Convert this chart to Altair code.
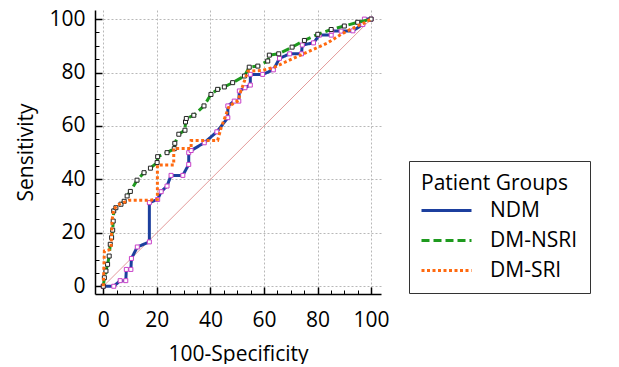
import altair as alt
import pandas as pd

FONT = "Open Sans"
FS = 21

groups = ["NDM", "DM-NSRI", "DM-SRI"]
colors = ["#1c3f9e", "#1e9a1e", "#ff6a10"]
dashes = [[1, 0], [8, 4], [3, 2.5]]

ndm_x = [0, 3.9, 6.3, 8.4, 8.6, 10.3, 10.5, 12.7, 17.2, 17.2, 20.3, 21.6, 23.8, 25.3, 29.7, 31.9, 31.9, 32.8, 37.7, 42.4,
         46.5, 46.5, 48.9, 50.6, 50.8, 52.9, 54.9, 54.9, 59.5, 63.5, 65.8, 69.6, 74.0, 74.3, 78.5, 80.7, 85.1, 85.3, 88.8, 93.2,
         96.9, 97.5, 100]
ndm_y = [0, 0, 2.1, 2.1, 6.3, 6.3, 10.4, 14.7, 16.6, 31.3, 32.5, 35.4, 37.5, 41.5, 41.5, 45.6, 50.0, 50.8, 53.7, 57.8,
         63.1, 67.5, 69.3, 69.3, 73.1, 74.3, 75.3, 79.3, 79.3, 81.0, 85.3, 87.0, 87.0, 90.3, 91.1, 94.0, 94.0, 95.5, 95.5, 95.6,
         98.0, 100, 100]

nsri_x = [0, 0.4, 1.0, 1.6, 2.2, 2.6, 3.1, 3.5, 3.7, 3.9, 4.7, 6.6, 7.8, 8.9, 10.1, 12.6, 15.2, 17.6, 20.1, 20.3,
          23.8, 26.5, 26.7, 28.2, 30.5, 30.7, 31.0, 33.8, 37.6, 40.2, 42.7, 45.2, 48.3, 52.7, 54.5, 57.7, 61.4, 62.0, 65.5, 70.5,
          75.1, 80.1, 85.1, 90.0, 95.0, 100]
nsri_y = [0, 3.2, 5.7, 8.2, 11.3, 15.7, 18.2, 21.0, 24.4, 28.2, 29.4, 30.7, 31.8, 33.8, 35.5, 39.7, 42.5, 44.2, 46.3, 48.5,
          50.0, 51.5, 53.5, 56.9, 58.4, 61.5, 62.8, 64.0, 67.5, 71.8, 73.7, 74.6, 76.2, 78.7, 82.0, 82.4, 84.3, 86.5, 87.0, 89.5,
          92.0, 94.3, 96.1, 97.4, 98.8, 100]

sri_x = [0, 0.4, 2.2, 2.9, 3.3, 3.9, 5.5, 9.7, 17.2, 20.2, 20.2, 26.3, 26.3, 32.8, 32.8, 42.7, 44.0, 47.0, 50.5, 51.0,
         54.0, 59.5, 63.9, 70.1, 77.6, 83.8, 88.8, 93.0, 97.5, 100]
sri_y = [0, 13.2, 13.6, 14.4, 25.0, 28.8, 30.5, 32.2, 32.2, 32.5, 45.4, 45.4, 51.6, 51.6, 54.6, 54.6, 59.3, 67.5, 69.5, 72.0,
         80.5, 80.8, 82.0, 84.9, 88.3, 91.1, 94.3, 96.5, 98.6, 100]

diag_x = [0, 100]
diag_y = [0, 100]

major_ticks = [0, 20, 40, 60, 80, 100]
minor_ticks = [0, 5, 10, 15, 20, 25, 30, 35, 40, 45, 50, 55, 60, 65, 70, 75, 80, 85, 90, 95, 100]

rows = []
for g, xs_, ys_ in zip(groups, [ndm_x, nsri_x, sri_x], [ndm_y, nsri_y, sri_y]):
    for i, (a, b) in enumerate(zip(xs_, ys_)):
        rows.append({"group": g, "order": i, "x": a, "y": b})
df = pd.DataFrame(rows)
diag_df = pd.DataFrame({"x": diag_x, "y": diag_y})

W, H = 286, 284
xscale = alt.Scale(domain=[-3.1, 103.7], nice=False, zero=False)
yscale = alt.Scale(domain=[-2.9, 103.4], nice=False, zero=False)

common_lab = dict(domain=False, ticks=False, tickSize=0, labelFont=FONT, labelFontSize=FS, labelColor="black",
                  titleFont=FONT, titleFontSize=FS, titleFontWeight="normal", titleColor="black",
                  grid=True, gridColor="#b8b8b8", gridDash=[2, 2], gridWidth=1, values=major_ticks, format="d")
x_lab = alt.Axis(orient="bottom", title="100-Specificity", labelPadding=15, titlePadding=13, **common_lab)
y_lab = alt.Axis(orient="left", title="Sensitivity", labelPadding=10, titlePadding=12, **common_lab)

common_tick = dict(labels=False, grid=False, title="", tickColor="black", domainColor="black")
x_major = alt.Axis(orient="top", offset=-H, values=major_ticks, domain=True, domainWidth=1.5, tickSize=7, tickWidth=1.5, **common_tick)
y_major = alt.Axis(orient="right", offset=-W, values=major_ticks, domain=True, domainWidth=1.5, tickSize=7, tickWidth=1.5, **common_tick)
x_minor = alt.Axis(orient="top", offset=-H, values=minor_ticks, domain=False, tickSize=4, tickWidth=1, **common_tick)
y_minor = alt.Axis(orient="right", offset=-W, values=minor_ticks, domain=False, tickSize=4, tickWidth=1, **common_tick)

legend = alt.Legend(title="Patient Groups", orient="none", legendX=314, legendY=151,
                    strokeColor="#333333", fillColor="white", padding=12,
                    titleFont=FONT, titleFontSize=FS, titleFontWeight="normal", titleColor="black", titlePadding=6,
                    labelFont=FONT, labelFontSize=FS, labelColor="black",
                    symbolType="M-5,0L5,0", symbolSize=100, symbolStrokeWidth=3,
                    symbolOffset=15, labelOffset=33, rowPadding=8)

color_enc = alt.Color("group:N", scale=alt.Scale(domain=groups, range=colors), legend=legend)
dash_enc = alt.StrokeDash("group:N", scale=alt.Scale(domain=groups, range=dashes), legend=legend)

diag = alt.Chart(diag_df).mark_line(color="#e39a9a", strokeWidth=1).encode(
    x=alt.X("x:Q", scale=xscale, axis=x_lab),
    y=alt.Y("y:Q", scale=yscale, axis=y_lab),
)


def series_line(g, xa, ya):
    return alt.Chart(df).transform_filter(alt.datum.group == g).mark_line(strokeWidth=3).encode(
        x=alt.X("x:Q", scale=xscale, axis=xa),
        y=alt.Y("y:Q", scale=yscale, axis=ya),
        color=color_enc, strokeDash=dash_enc, order="order:Q",
    )


def markers(g, stroke, xa=None, ya=None):
    return alt.Chart(df).transform_filter(alt.datum.group == g).mark_point(
        shape="square", size=16, filled=True, fill="white", stroke=stroke, strokeWidth=1, opacity=1
    ).encode(
        x=alt.X("x:Q", scale=xscale, axis=xa),
        y=alt.Y("y:Q", scale=yscale, axis=ya),
    )


chart = alt.layer(
    diag,
    series_line("NDM", x_major, y_major),
    markers("NDM", "#c840c8", x_minor, y_minor),
    series_line("DM-NSRI", None, None),
    markers("DM-NSRI", "#222222"),
    series_line("DM-SRI", None, None),
).resolve_axis(x="independent", y="independent").properties(
    width=W, height=H, padding={"left": 7, "top": 0, "right": 0, "bottom": 0}
).configure_view(strokeWidth=0)

chart.save("out.html", embed_options={"renderer": "svg", "actions": False})
